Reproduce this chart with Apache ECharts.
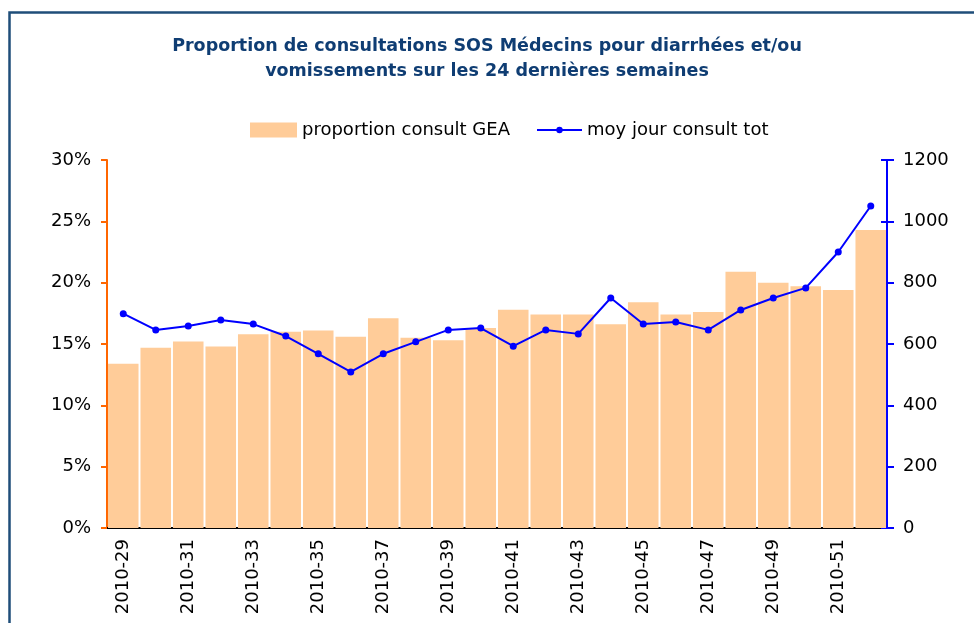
<!DOCTYPE html>
<html>
<head>
<meta charset="utf-8">
<script src="https://cdn.jsdelivr.net/npm/echarts@6/dist/echarts.min.js"></script>
<style>
  html, body { margin: 0; padding: 0; background: #fff; }
  #chart { width: 974px; height: 623px; }
</style>
</head>
<body>
<div id="chart"></div>
<script>
// semaines 2010-29 à 2010-52
const weeks = ['2010-29', '2010-30', '2010-31', '2010-32', '2010-33', '2010-34', '2010-35', '2010-36',
  '2010-37', '2010-38', '2010-39', '2010-40', '2010-41', '2010-42', '2010-43', '2010-44',
  '2010-45', '2010-46', '2010-47', '2010-48', '2010-49', '2010-50', '2010-51', '2010-52']
// proportion consult GEA (%)
const propGEA = [13.4, 14.7, 15.2, 14.8, 15.8, 16.0, 16.1, 15.6, 17.1, 15.5, 15.3, 16.3,
  17.8, 17.4, 17.4, 16.6, 18.4, 17.4, 17.6, 20.9, 20.0, 19.7, 19.4, 24.3]
// moy jour consult tot
const moyJour = [699, 646, 659, 678, 665, 626, 568, 509, 568, 607, 646, 652,
  593, 646, 633, 750, 665, 672, 646, 711, 750, 783, 900, 1050]

const font = 'DejaVu Sans, Arial, sans-serif'

const chart = echarts.init(document.getElementById('chart'))
chart.setOption({
  animation: false,
  graphic: [{
    type: 'rect',
    left: 7,
    top: 10,
    shape: { width: 1000, height: 700 },
    style: { fill: 'none', stroke: '#1F4E79', lineWidth: 2.5 }
  }],
  title: {
    text: 'Proportion de consultations SOS Médecins pour diarrhées et/ou\nvomissements sur les 24 dernières semaines',
    left: 'center',
    top: 29,
    textStyle: {
      fontFamily: font,
      fontSize: 17.5,
      fontWeight: 'bold',
      color: '#0F3D73',
      lineHeight: 25
    }
  },
  legend: [{
    top: 121,
    left: 250,
    padding: 0,
    itemWidth: 47,
    itemHeight: 15,
    icon: 'rect',
    textStyle: { fontFamily: font, fontSize: 18, color: '#000' },
    data: ['proportion consult GEA']
  }, {
    top: 121,
    left: 536,
    padding: 0,
    itemWidth: 45,
    itemHeight: 8,
    textStyle: { fontFamily: font, fontSize: 18, color: '#000' },
    data: ['moy jour consult tot']
  }],
  grid: { left: 107, right: 87, top: 160, bottom: 95 },
  xAxis: {
    type: 'category',
    data: weeks,
    axisLine: { lineStyle: { color: '#000', width: 2 } },
    axisTick: { interval: 0, length: 6, lineStyle: { color: '#000', width: 1.5 } },
    axisLabel: {
      interval: 1,
      rotate: 90,
      margin: 11,
      fontFamily: font,
      fontSize: 18,
      color: '#000'
    }
  },
  yAxis: [{
    type: 'value',
    min: 0,
    max: 30,
    interval: 5,
    position: 'left',
    splitLine: { show: false },
    axisLine: { show: true, lineStyle: { color: '#FF6600', width: 2 } },
    axisTick: { show: true, length: 6, lineStyle: { color: '#FF6600', width: 2 } },
    axisLabel: { formatter: '{value}%', margin: 16, fontFamily: font, fontSize: 18, color: '#000' }
  }, {
    type: 'value',
    min: 0,
    max: 1200,
    interval: 200,
    position: 'right',
    splitLine: { show: false },
    axisLine: { show: true, lineStyle: { color: '#0000FF', width: 2 } },
    axisTick: { show: true, length: 7, lineStyle: { color: '#0000FF', width: 2 } },
    axisLabel: { formatter: v => String(v), margin: 16, fontFamily: font, fontSize: 18, color: '#000' }
  }, {
    // ticks intérieurs de l'axe droit (ticks croisés)
    type: 'value',
    min: 0,
    max: 1200,
    interval: 200,
    position: 'right',
    splitLine: { show: false },
    axisLine: { show: false },
    axisTick: { show: true, inside: true, length: 6, lineStyle: { color: '#0000FF', width: 2 } },
    axisLabel: { show: false }
  }],
  series: [{
    name: 'proportion consult GEA',
    type: 'bar',
    data: propGEA,
    barCategoryGap: '6%',
    itemStyle: { color: '#FFCC99' }
  }, {
    name: 'moy jour consult tot',
    type: 'line',
    yAxisIndex: 1,
    data: moyJour,
    symbol: 'circle',
    symbolSize: 7,
    lineStyle: { color: '#0000FF', width: 2 },
    itemStyle: { color: '#0000FF' }
  }]
})
</script>
</body>
</html>
